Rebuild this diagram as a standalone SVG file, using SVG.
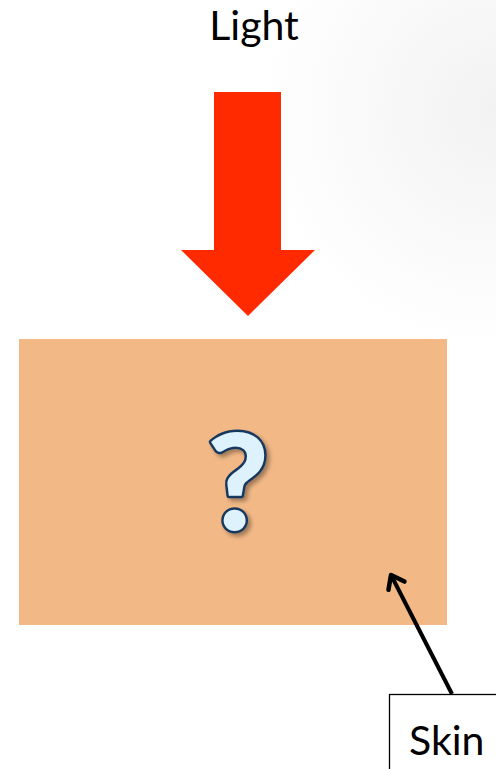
<svg xmlns="http://www.w3.org/2000/svg" width="496" height="769" viewBox="0 0 496 769">
  <defs>
    <style>
      .lbl { font-family: Lato, "Open Sans", "Liberation Sans", sans-serif; font-size: 41px; fill: #000; }
      .q { font-family: Lato, "Open Sans", "Liberation Sans", sans-serif; font-weight: 900; font-size: 134px; fill: #DDF2FD; stroke: #17375E; stroke-width: 5; paint-order: stroke; stroke-linejoin: round; }
    </style>
    <radialGradient id="bg" cx="496" cy="110" r="240" gradientUnits="userSpaceOnUse">
      <stop offset="0" stop-color="#f2f2f2"/>
      <stop offset="1" stop-color="#ffffff"/>
    </radialGradient>
    <filter id="sh" x="-20%" y="-20%" width="140%" height="140%">
      <feGaussianBlur in="SourceAlpha" stdDeviation="2"/>
      <feOffset dx="3" dy="3" result="b"/>
      <feComponentTransfer><feFuncA type="linear" slope="0.35"/></feComponentTransfer>
      <feMerge><feMergeNode/><feMergeNode in="SourceGraphic"/></feMerge>
    </filter>
    <marker id="open" markerWidth="24" markerHeight="24" refX="18" refY="12" orient="auto" markerUnits="userSpaceOnUse" viewBox="0 0 24 24">
      <path d="M6,3 L18,12 L6,21" fill="none" stroke="#000" stroke-width="4.5" stroke-linecap="round" stroke-linejoin="round"/>
    </marker>
  </defs>
  <rect x="0" y="0" width="496" height="769" fill="url(#bg)"/>

  <g id="light">
    <text class="lbl" x="254" y="40" text-anchor="middle">Light</text>
  </g>
  <g id="light-arrow">
    <polygon points="214,92 281,92 281,250 315,250 248,316 181,250 214,250" fill="#FF2A00"/>
  </g>
  <g id="skin-block">
    <rect x="19" y="339" width="428" height="286" fill="#F2B886"/>
    <text class="q" x="238" y="530" text-anchor="middle" filter="url(#sh)">?</text>
  </g>
  <g id="skin-label">
    <rect x="389.5" y="694.5" width="110" height="80" fill="#fff" stroke="#000" stroke-width="1.3"/>
    <text class="lbl" x="409" y="755">Skin</text>
  </g>
  <g id="connectors">
    <line x1="452" y1="694" x2="391" y2="575" stroke="#000" stroke-width="4" marker-end="url(#open)"/>
  </g>
</svg>
